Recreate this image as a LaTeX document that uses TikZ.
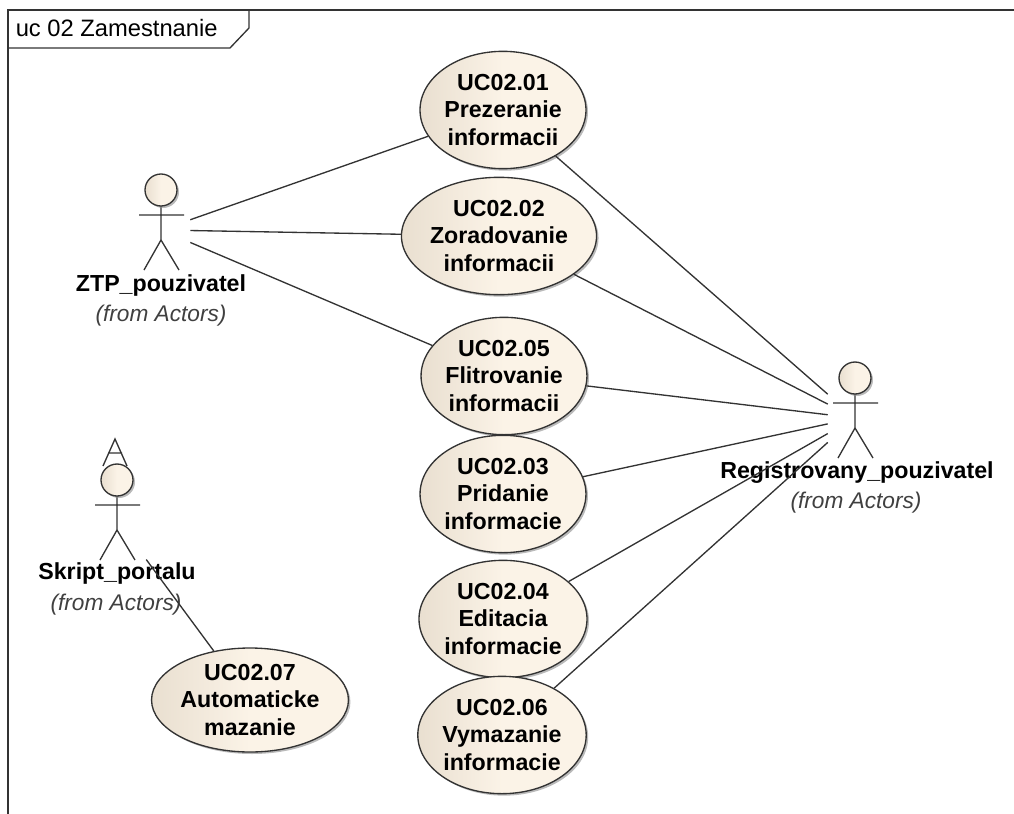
\documentclass[tikz,border=0pt]{standalone}
\usepackage{fontspec}
\setmainfont{Liberation Sans}
\usetikzlibrary{shapes.geometric,shadows}
\definecolor{ucdark}{HTML}{E9DFD0}
\definecolor{uclight}{HTML}{FBF3E7}
\definecolor{linecol}{HTML}{333333}
\tikzset{
  x=0.75pt,y=-0.75pt,
  conn/.style={draw=linecol,line width=1pt},
  skin/.style={draw=linecol,line width=1pt,left color=ucdark,right color=uclight,middle color=uclight,
     drop shadow={shadow xshift=1.5pt,shadow yshift=-1.5pt,fill=black!45,opacity=.6}},
  uc/.style={ellipse,skin,inner sep=0pt,align=center,text=black,font=\fontsize{17.4}{20.3}\selectfont\bfseries},
  actorname/.style={font=\fontsize{17.4}{20}\selectfont\bfseries,inner sep=0pt,text=black},
  fromlbl/.style={font=\fontsize{17}{20}\selectfont\itshape,inner sep=0pt,text=black!75},
  hit/.style={rectangle,inner sep=0pt,minimum width=#1*0.75pt,minimum height=87pt},
  stick/.style={draw=linecol,line width=1pt},
  actor/.pic={
    \draw[stick] (0,16)--(0,50) (-22,25)--(23,25) (-17,80)--(0,50)--(18,80);
    \node[circle,skin,minimum size=24pt,inner sep=0pt] at (0,0) {};
  }
}
\begin{document}
\begin{tikzpicture}
\useasboundingbox (0,0) rectangle (1014,814);
% frame
\draw[conn] (1014,10) -- (8,10) -- (8,814);
\draw[conn] (8,48) -- (230,48) -- (249,28) -- (249,10);
\node[anchor=base west,inner sep=0pt,text=black,font=\fontsize{17.8}{20}\selectfont] (title) at (15.5,36) {uc 02 Zamestnanie};

% actors
\pic at (161,190) {actor};
\node[actorname] (ztpn) at (161,285) {ZTP\_pouzivatel};
\node[fromlbl] (ztpf) at (161,316) {(from Actors)};
\node[hit=58] (ztp) at (161,230) {};

\pic at (855,378) {actor};
\node[actorname] (regn) at (857,473) {Registrovany\_pouzivatel};
\node[fromlbl] (regf) at (856,503) {(from Actors)};
\node[hit=54] (reg) at (855,418) {};

\draw[stick] (103,466) -- (115,439) -- (127,466) (108,453) -- (122,453);
\pic at (117,480) {actor};
\node[actorname] (skn) at (117,573) {Skript\_portalu};
\node[fromlbl] (skf) at (116,605) {(from Actors)};
\node[hit=58] (sk) at (117,520) {};

% use cases
\node[uc,minimum width=123pt,minimum height=88pt] (uc1) at (503,110) {UC02.01\\Prezeranie\\ informacii};
\node[uc,minimum width=131pt,minimum height=88pt] (uc2) at (499,236) {UC02.02\\Zoradovanie\\ informacii};
\node[uc,minimum width=120pt,minimum height=88pt] (uc5) at (504,376) {UC02.05\\Flitrovanie\\ informacii};
\node[uc,minimum width=121pt,minimum height=88pt] (uc3) at (503,494) {UC02.03\\Pridanie\\informacie};
\node[uc,minimum width=126pt,minimum height=88pt] (uc4) at (503,619) {UC02.04\\Editacia\\informacie};
\node[uc,minimum width=123pt,minimum height=88pt] (uc6) at (502,735) {UC02.06\\Vymazanie\\informacie};
\node[uc,minimum width=117pt,minimum height=78pt] (uc7) at (250,700) {UC02.07\\Automaticke\\mazanie};

% connectors
\draw[conn] (ztp) -- (uc1);
\draw[conn] (ztp) -- (uc2);
\draw[conn] (ztp) -- (uc5);
\draw[conn] (reg) -- (uc1);
\draw[conn] (reg) -- (uc2);
\draw[conn] (reg) -- (uc5);
\draw[conn] (reg) -- (uc3);
\draw[conn] (reg) -- (uc4);
\draw[conn] (reg) -- (uc6);
\draw[conn] (sk) -- (uc7);
\end{tikzpicture}
\end{document}
